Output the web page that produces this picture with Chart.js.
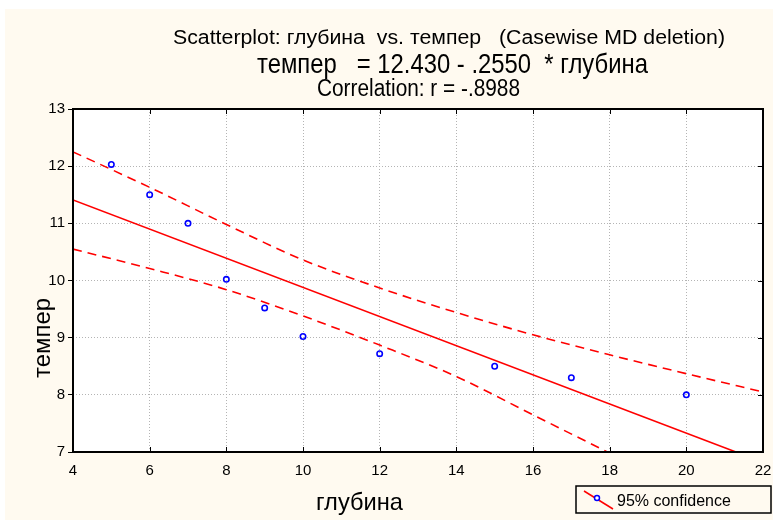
<!DOCTYPE html>
<html>
<head>
<meta charset="utf-8">
<script src="https://cdn.jsdelivr.net/npm/chart.js"></script>
<title>Scatterplot</title>
<style>
    html, body { margin: 0; padding: 0; background: #ffffff; }
    #panel { position: absolute; left: 5px; top: 9px; width: 768px; height: 511px; background: #fffaf0; }
    #wrap { position: absolute; left: 0; top: 0; width: 773px; height: 520px; }
</style>
</head>
<body>
<div id="panel"></div>
<div id="wrap"><canvas id="myChart" width="773" height="520"></canvas></div>
<script>
    // точки (глубина, темпер)
    var depth = [5, 6, 7, 8, 9, 10, 12, 15, 17, 20];
    var temper = [12.03, 11.5, 11.0, 10.02, 9.52, 9.02, 8.72, 8.5, 8.3, 8.0];

    // линия регрессии: темпер = 12.430 - .2550 * глубина
    var fitX = [4, 22];
    var fitY = [11.41, 6.82];

    // 95% доверительный интервал
    var bandX = [4, 6, 8, 10, 12, 14, 16, 18, 20, 22];
    var upperY = [12.25, 11.63, 10.98, 10.36, 9.87, 9.44, 9.05, 8.70, 8.37, 8.05];
    var lowerY = [10.55, 10.21, 9.84, 9.38, 8.87, 8.32, 7.65, 6.98];

    var xTicks = [4, 6, 8, 10, 12, 14, 16, 18, 20, 22];
    var yTicks = [7, 8, 9, 10, 11, 12, 13];

    var titleLines = [
        'Scatterplot: глубина  vs. темпер   (Casewise MD deletion)',
        'темпер   = 12.430 - .2550  * глубина',
        'Correlation: r = -.8988'
    ];
    var xTitle = 'глубина';
    var yTitle = 'темпер';
    var legendText = '95% confidence';

    var FONT = '"Liberation Sans", Arial, sans-serif';

    function pairs(xs, ys) {
        var out = [];
        for (var i = 0; i < ys.length; i++) out.push({x: xs[i], y: ys[i]});
        return out;
    }

    // текст, растянутый/сжатый по ширине как в Statistica
    function fitText(ctx, txt, x, y, size, width, rotate) {
        ctx.save();
        ctx.font = size + 'px ' + FONT;
        var w = ctx.measureText(txt).width;
        ctx.translate(x, y);
        if (rotate) ctx.rotate(-Math.PI / 2);
        ctx.scale(width / w, 1);
        ctx.fillStyle = '#000';
        ctx.textAlign = 'left';
        ctx.textBaseline = 'alphabetic';
        ctx.fillText(txt, 0, 0);
        ctx.restore();
    }

    var decor = {
        id: 'decor',
        beforeDraw: function (chart) {
            var ctx = chart.ctx, a = chart.chartArea;
            ctx.save();
            ctx.fillStyle = '#ffffff';
            ctx.fillRect(a.left, a.top, a.right - a.left, a.bottom - a.top);
            ctx.restore();
        },
        afterDraw: function (chart) {
            var ctx = chart.ctx, a = chart.chartArea;
            var sx = chart.scales.x, sy = chart.scales.y;
            ctx.save();
            // рамка
            ctx.strokeStyle = '#000';
            ctx.lineWidth = 2;
            ctx.strokeRect(a.left, a.top, a.right - a.left, a.bottom - a.top);
            // внутренние засечки
            ctx.lineWidth = 1;
            ctx.beginPath();
            xTicks.forEach(function (v) {
                var px = Math.round(sx.getPixelForValue(v)) + 0.5;
                ctx.moveTo(px, a.bottom); ctx.lineTo(px, a.bottom - 5);
                ctx.moveTo(px, a.top); ctx.lineTo(px, a.top + 5);
            });
            yTicks.forEach(function (v) {
                var py = Math.round(sy.getPixelForValue(v)) + 0.5;
                ctx.moveTo(a.right, py); ctx.lineTo(a.right - 5, py);
            });
            ctx.stroke();

            // заголовки
            fitText(ctx, titleLines[0], 173, 44, 19.5, 552);
            fitText(ctx, titleLines[1], 257, 73, 28.5, 391);
            fitText(ctx, titleLines[2], 317, 96, 23, 203);
            // подписи осей
            fitText(ctx, xTitle, 316, 510, 24, 87);
            fitText(ctx, yTitle, 50, 378, 24, 80, true);

            // легенда
            ctx.fillStyle = '#fffaf0';
            ctx.fillRect(576, 486, 195, 27);
            ctx.strokeStyle = '#000';
            ctx.lineWidth = 1.5;
            ctx.strokeRect(576, 486, 195, 27);
            ctx.strokeStyle = '#ff0000';
            ctx.lineWidth = 1.5;
            ctx.beginPath();
            ctx.moveTo(584, 491); ctx.lineTo(613, 509);
            ctx.stroke();
            ctx.strokeStyle = '#0000ff';
            ctx.fillStyle = '#ffffff';
            ctx.beginPath();
            ctx.arc(597, 498, 2.5, 0, Math.PI * 2);
            ctx.fill(); ctx.stroke();
            ctx.fillStyle = '#000';
            ctx.font = '16px ' + FONT;
            ctx.textBaseline = 'alphabetic';
            ctx.fillText(legendText, 617, 506);
            ctx.restore();
        }
    };

    var ctx = document.getElementById('myChart').getContext('2d');
    var myChart = new Chart(ctx, {
        type: 'scatter',
        data: {
            datasets: [{
                label: 'темпер',
                data: pairs(depth, temper),
                pointStyle: 'circle',
                pointRadius: 2.7,
                pointBorderWidth: 1.6,
                pointBorderColor: '#0000ff',
                pointBackgroundColor: 'rgba(255,255,255,0)'
            }, {
                label: 'fit',
                data: pairs(fitX, fitY),
                showLine: true,
                pointRadius: 0,
                borderColor: '#ff0000',
                borderWidth: 1.6
            }, {
                label: 'upper',
                data: pairs(bandX, upperY),
                showLine: true,
                pointRadius: 0,
                borderColor: '#ff0000',
                borderWidth: 1.6,
                borderDash: [9, 6],
                cubicInterpolationMode: 'monotone'
            }, {
                label: 'lower',
                data: pairs(bandX, lowerY),
                showLine: true,
                pointRadius: 0,
                borderColor: '#ff0000',
                borderWidth: 1.6,
                borderDash: [9, 6],
                cubicInterpolationMode: 'monotone'
            }]
        },
        options: {
            responsive: false,
            animation: false,
            devicePixelRatio: 1,
            layout: { padding: { top: 109, right: 10, left: 0, bottom: 0 } },
            plugins: {
                legend: { display: false },
                tooltip: { enabled: false }
            },
            scales: {
                x: {
                    type: 'linear',
                    min: 4,
                    max: 22,
                    afterBuildTicks: function (s) { s.ticks = xTicks.map(function (v) { return {value: v}; }); },
                    afterFit: function (s) { s.height = 68; s.paddingLeft = 0; s.paddingRight = 0; },
                    ticks: { font: { size: 15, family: FONT }, color: '#000', padding: 10, maxRotation: 0, autoSkip: false },
                    grid: { color: '#b4b4b4', lineWidth: 1, drawTicks: false },
                    border: { display: false, dash: [1, 2] }
                },
                y: {
                    type: 'linear',
                    min: 7,
                    max: 13,
                    afterBuildTicks: function (s) { s.ticks = yTicks.map(function (v) { return {value: v}; }); },
                    afterFit: function (s) { s.width = 73; s.paddingTop = 0; s.paddingBottom = 0; },
                    ticks: { font: { size: 15, family: FONT }, color: '#000', padding: 3 },
                    grid: { color: '#b4b4b4', lineWidth: 1, tickColor: '#000', tickLength: 5, tickWidth: 1, tickBorderDash: [] },
                    border: { display: false, dash: [1, 2] }
                }
            }
        },
        plugins: [decor]
    });
</script>
</body>
</html>
